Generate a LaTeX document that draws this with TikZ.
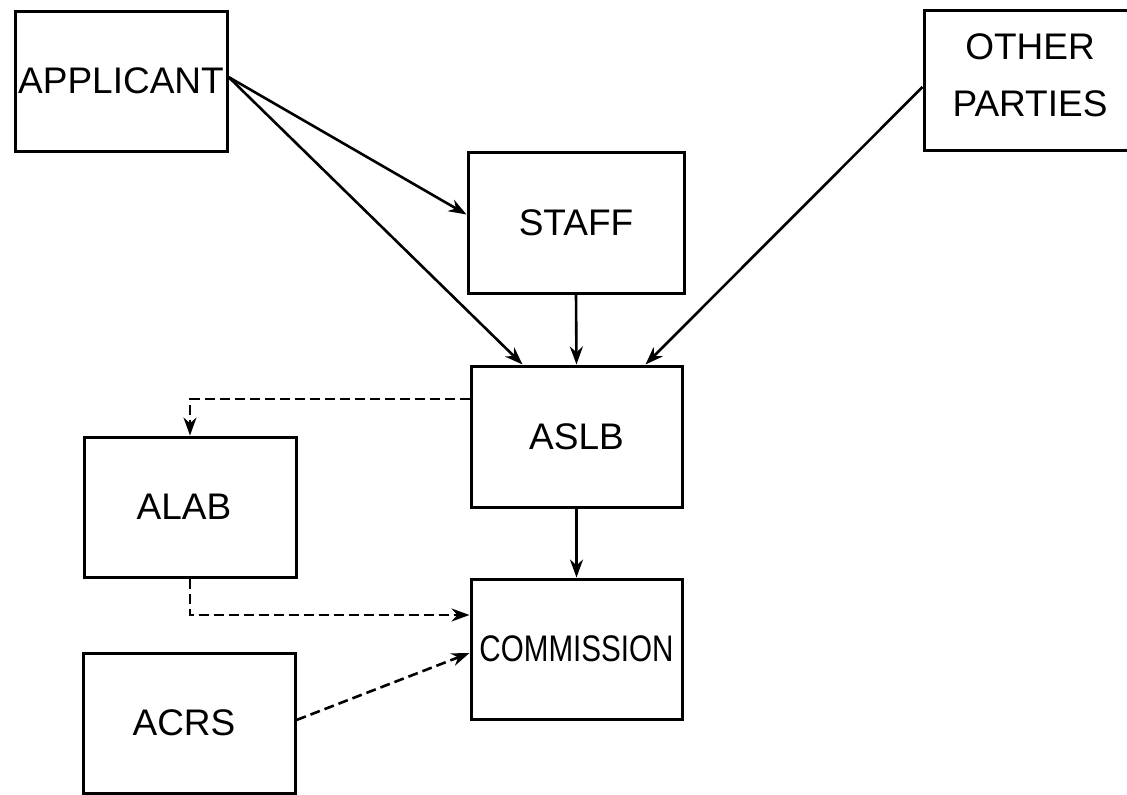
\documentclass[tikz,border=0pt]{standalone}
\usepackage{fontspec}
\setmainfont{Liberation Sans}
\usetikzlibrary{arrows.meta}
\begin{document}
\begin{tikzpicture}[x=1pt,y=-1pt,
  box/.style={draw,line width=3pt,minimum width=212pt,minimum height=140pt,inner sep=0pt,font=\fontsize{37}{42}\selectfont},
  arr/.style={line width=2.6pt,-{Stealth[length=18pt,width=13pt]}},
  darr/.style={arr,dash pattern=on 10pt off 5pt}]
\useasboundingbox (0,0) rectangle (1127,795);
\node[box] (app) at (121,81) {APPLICANT};
\node[box] (oth) at (1030,80) {\raisebox{8pt}{\begin{tabular}{@{}c@{}}OTHER\\[15pt]PARTIES\end{tabular}}};
\node[box,minimum width=216pt,minimum height=141pt] (staff) at (576,222.5) {STAFF};
\node[box,minimum width=211pt,minimum height=141pt] (aslb) at (576.5,436.5) {ASLB};
\node[box] (alab) at (190,507) {\hspace*{-12pt}ALAB};
\node[box,minimum width=211pt] (comm) at (576.5,649) {\raisebox{-3pt}{\scalebox{0.8}[1]{COMMISSION}}};
\node[box] (acrs) at (189,723) {\hspace*{-10pt}ACRS};
\draw[arr] ([yshift=4pt]app.east) -- ([yshift=8pt]staff.west);
\draw[arr] ([yshift=4pt]app.east) -- ([xshift=-54pt]aslb.north);
\draw[arr] ([yshift=-7pt]oth.west) -- ([xshift=69pt]aslb.north);
\draw[arr] (staff.south) -- (aslb.north);
\draw[arr] (aslb.south) -- (comm.north);
\draw[darr] ([yshift=37.5pt]aslb.west) -| (alab.north);
\draw[darr] (alab.south) |- ([yshift=34pt]comm.west);
\draw[darr] ([yshift=3pt]acrs.east) -- ([yshift=-4pt]comm.west);
\end{tikzpicture}
\end{document}
